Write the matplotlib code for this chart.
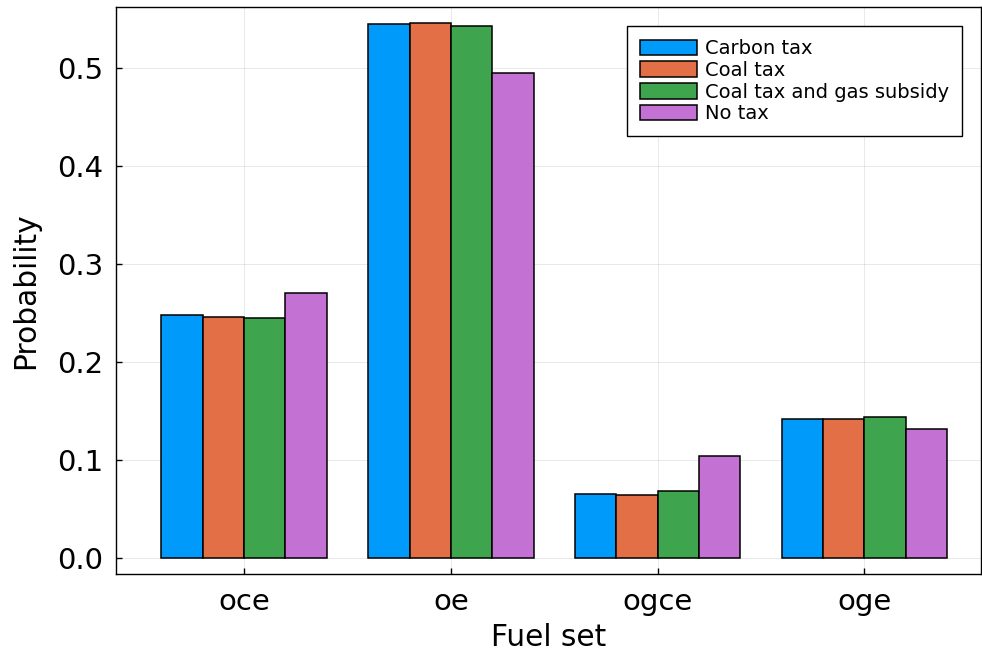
import matplotlib
matplotlib.use("Agg")
import matplotlib.pyplot as plt
import numpy as np

categories = ["oce", "oe", "ogce", "oge"]
series_names = ["Carbon tax", "Coal tax", "Coal tax and gas subsidy", "No tax"]
carbon_tax = [0.2475, 0.5453, 0.0653, 0.1421]
coal_tax = [0.2462, 0.5464, 0.0643, 0.1419]
coal_gas = [0.2449, 0.5430, 0.0684, 0.1438]
no_tax = [0.2702, 0.4949, 0.1042, 0.1312]
colors = ["#009AFA", "#E36F47", "#3EA44E", "#C371D2"]
yticks = [0.0, 0.1, 0.2, 0.3, 0.4, 0.5]

plt.rcParams['font.family'] = ['DejaVu Sans']
fig = plt.figure(figsize=(9.82, 6.56), dpi=100)
ax = fig.add_axes([116/982, (656-574)/656, (981-116)/982, (574-7)/656])

x = np.arange(len(categories))
bw = 0.2
all_series = [carbon_tax, coal_tax, coal_gas, no_tax]
for i, (vals, name, c) in enumerate(zip(all_series, series_names, colors)):
    ax.bar(x + (i - 1.5) * bw, vals, width=bw, color=c, edgecolor="black",
           linewidth=1.1, label=name, zorder=3)

ax.set_xlim(-0.62, 3.565)
ax.set_ylim(-0.0164, 0.5624)
ax.set_xticks(x)
ax.set_xticklabels(categories)
ax.set_yticks(yticks)
ax.set_yticklabels([f"{v:.1f}" for v in yticks])
ax.tick_params(direction="in", length=4, width=1, labelsize=21)
ax.tick_params(axis="x", pad=10)
ax.tick_params(axis="y", pad=9)
ax.grid(True, color="black", alpha=0.1, linewidth=0.6, zorder=0)
for s in ax.spines.values():
    s.set_linewidth(1.0)
ax.set_xlabel("Fuel set", fontsize=21.3, labelpad=5)
ax.set_ylabel("Probability", fontsize=21.3, labelpad=12)

leg = ax.legend(loc="upper right", fontsize=14, frameon=True, fancybox=False,
                edgecolor="black", framealpha=1, handlelength=2.95, handleheight=0.85,
                labelspacing=0.14, handletextpad=0.4, borderaxespad=1.0, borderpad=0.65)
leg.get_frame().set_linewidth(1.0)

fig.savefig("out.png", dpi=100)
